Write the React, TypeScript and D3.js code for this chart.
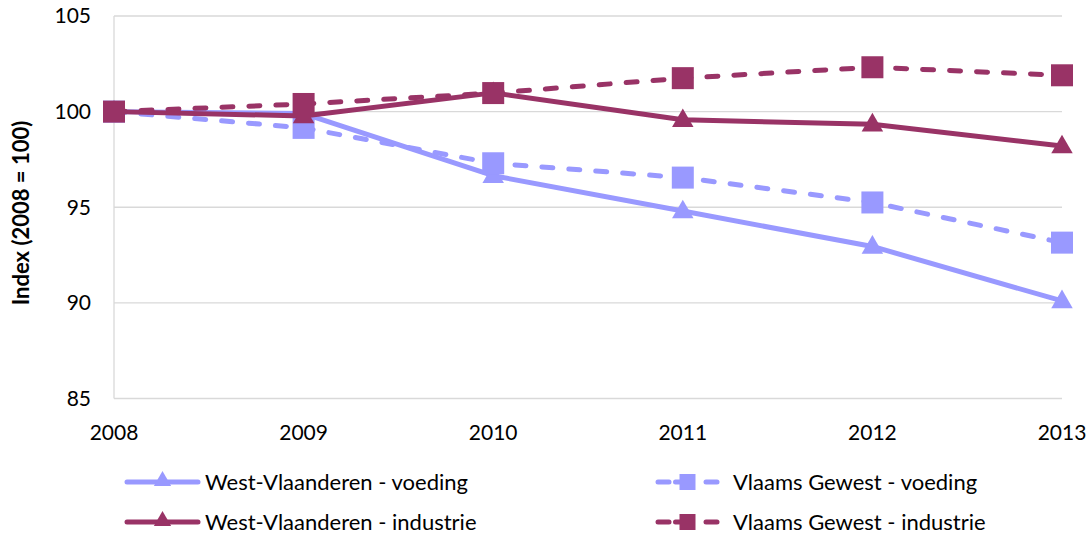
import React from "react";
import * as d3 from "d3";

const years = ["2008", "2009", "2010", "2011", "2012", "2013"];
const wvVoeding = [100, 99.9, 96.65, 94.8, 92.95, 90.1];
const vgVoeding = [100, 99.15, 97.3, 96.55, 95.25, 93.15];
const wvIndustrie = [100, 99.77, 100.98, 99.57, 99.34, 98.2];
const vgIndustrie = [100, 100.4, 100.97, 101.75, 102.32, 101.9];
const yTicks = [85, 90, 95, 100, 105];

const LIGHT = "#9999FF";
const DARK = "#993366";
const FONT = "Lato, 'Open Sans', sans-serif";

const seriesList = [
  { name: "West-Vlaanderen - voeding", values: wvVoeding, color: LIGHT, dashed: false, marker: "triangle" },
  { name: "Vlaams Gewest - voeding", values: vgVoeding, color: LIGHT, dashed: true, marker: "square" },
  { name: "West-Vlaanderen - industrie", values: wvIndustrie, color: DARK, dashed: false, marker: "triangle" },
  { name: "Vlaams Gewest - industrie", values: vgIndustrie, color: DARK, dashed: true, marker: "square" },
];

function Marker({ type, x, y, color }: { type: string; x: number; y: number; color: string }) {
  if (type === "square") {
    const s = 22;
    return <rect x={x - s / 2} y={y - s / 2} width={s} height={s} fill={color} />;
  }
  const tri = d3.symbol().type(d3.symbolTriangle).size(200)();
  return <path d={tri || ""} transform={`translate(${x},${y + 1})`} fill={color} />;
}

export default function App() {
  const W = 1088;
  const H = 538;
  const x = d3.scalePoint<string>().domain(years).range([114, 1062]);
  const y = d3.scaleLinear().domain([85, 105]).range([398.5, 16]);
  const line = d3
    .line<number>()
    .x((_, i) => x(years[i]) as number)
    .y((d) => y(d));

  const legendPos = [
    { lx: 127, lx2: 198, tx: 205, ty: 490 },
    { lx: 655, lx2: 720, tx: 733, ty: 490 },
    { lx: 127, lx2: 198, tx: 205, ty: 530 },
    { lx: 655, lx2: 720, tx: 733, ty: 530 },
  ];

  return (
    <svg width={W} height={H} style={{ position: "absolute", left: 0, top: 0, background: "#fff" }}>
      {yTicks.map((t) => (
        <line key={t} x1={114} x2={1062} y1={y(t)} y2={y(t)} stroke="#d9d9d9" strokeWidth={1.3} />
      ))}
      <line x1={114} x2={114} y1={y(105)} y2={y(85)} stroke="#d9d9d9" strokeWidth={1.3} />
      {yTicks.map((t) => (
        <text key={t} x={91} y={y(t)} dy="0.35em" textAnchor="end" fontFamily={FONT} fontSize={21} fill="#000">
          {t}
        </text>
      ))}
      {years.map((yr) => (
        <text key={yr} x={x(yr)} y={440} textAnchor="middle" fontFamily={FONT} fontSize={21} fill="#000">
          {yr}
        </text>
      ))}
      <text
        transform="translate(29,213) rotate(-90)"
        textAnchor="middle"
        fontFamily={FONT}
        fontSize={22}
        fontWeight="bold"
        fill="#000"
      >
        Index (2008 = 100)
      </text>
      {seriesList.map((s) => (
        <g key={s.name}>
          <path
            d={line(s.values) || ""}
            fill="none"
            stroke={s.color}
            strokeWidth={5}
            strokeLinecap="round"
            strokeLinejoin="round"
            strokeDasharray={s.dashed ? "11,16" : undefined}
          />
          {s.values.map((v, i) => (
            <Marker key={i} type={s.marker} x={x(years[i]) as number} y={y(v)} color={s.color} />
          ))}
        </g>
      ))}
      {seriesList.map((s, i) => {
        const p = legendPos[i];
        const mid = (p.lx + p.lx2) / 2;
        const ly = p.ty - 8;
        return (
          <g key={s.name}>
            {s.dashed ? (
              <>
                <line x1={p.lx + 3} x2={p.lx + 14} y1={ly} y2={ly} stroke={s.color} strokeWidth={5} strokeLinecap="round" />
                <line x1={p.lx2 - 14} x2={p.lx2 - 3} y1={ly} y2={ly} stroke={s.color} strokeWidth={5} strokeLinecap="round" />
                <line x1={mid - 12} x2={mid} y1={ly} y2={ly} stroke={s.color} strokeWidth={5} strokeLinecap="round" />
                <rect x={mid - 8} y={ly - 8} width={16} height={16} fill={s.color} />
              </>
            ) : (
              <>
                <line x1={p.lx} x2={p.lx2} y1={ly} y2={ly} stroke={s.color} strokeWidth={5} strokeLinecap="round" />
                <path d={d3.symbol().type(d3.symbolTriangle).size(130)() || ""} transform={`translate(${mid},${ly - 1})`} fill={s.color} />
              </>
            )}
            <text x={p.tx} y={p.ty} fontFamily={FONT} fontSize={22} fill="#000">
              {s.name}
            </text>
          </g>
        );
      })}
    </svg>
  );
}
